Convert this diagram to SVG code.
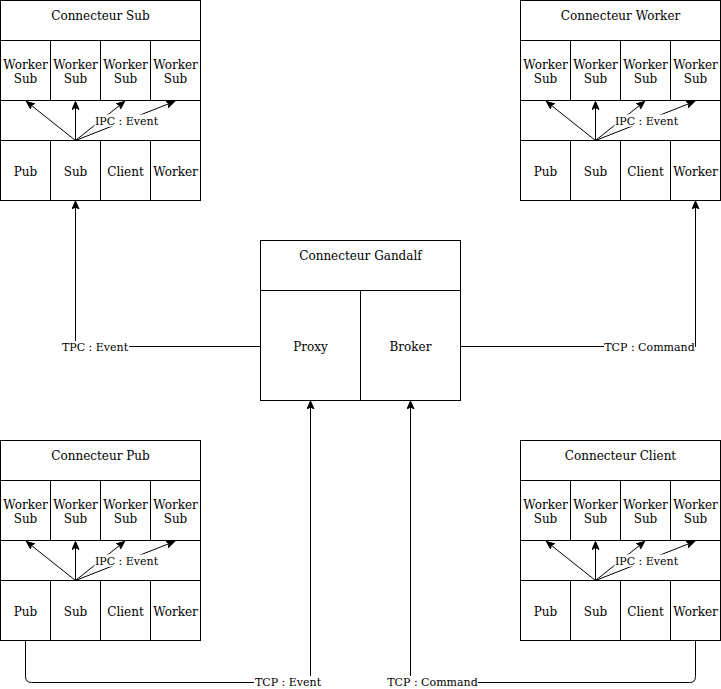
<svg xmlns="http://www.w3.org/2000/svg" width="721" height="689" viewBox="0 0 721 689">
  <style>
    .cell { fill: #ffffff; stroke: #000000; stroke-width: 1; }
    .lbl { font-family: "DejaVu Serif", "Liberation Serif", serif; font-size: 12px; fill: #000000; text-anchor: middle; }
    .elbl { font-family: "DejaVu Serif", "Liberation Serif", serif; font-size: 11px; fill: #000000; text-anchor: middle; }
    .edge { fill: none; stroke: #000000; stroke-width: 1; marker-end: url(#arrow); }
    .bg { fill: #ffffff; stroke: none; }
  </style>
  <defs>
    <marker id="arrow" markerUnits="userSpaceOnUse" markerWidth="10" markerHeight="10" refX="8" refY="3.5" orient="auto">
      <path d="M0,0 L8,3.5 L0,7 L2,3.5 Z" fill="#000000" stroke="#000000" stroke-width="1"/>
    </marker>
  </defs>

  <rect width="721" height="689" fill="#ffffff"/>

  <!-- Connecteur Sub -->
  <g id="connecteur-sub" transform="translate(0.5,0.5)">
    <rect class="cell" x="0" y="0" width="200" height="40"/>
    <text class="lbl" x="100" y="19">Connecteur Sub</text>
    <rect class="cell" x="0" y="40" width="50" height="60"/>
    <rect class="cell" x="50" y="40" width="50" height="60"/>
    <rect class="cell" x="100" y="40" width="50" height="60"/>
    <rect class="cell" x="150" y="40" width="50" height="60"/>
    <text class="lbl" x="25" y="68">Worker</text><text class="lbl" x="25" y="82">Sub</text>
    <text class="lbl" x="75" y="68">Worker</text><text class="lbl" x="75" y="82">Sub</text>
    <text class="lbl" x="125" y="68">Worker</text><text class="lbl" x="125" y="82">Sub</text>
    <text class="lbl" x="175" y="68">Worker</text><text class="lbl" x="175" y="82">Sub</text>
    <rect class="cell" x="0" y="100" width="200" height="40"/>
    <rect class="cell" x="0" y="140" width="50" height="60"/>
    <rect class="cell" x="50" y="140" width="50" height="60"/>
    <rect class="cell" x="100" y="140" width="50" height="60"/>
    <rect class="cell" x="150" y="140" width="50" height="60"/>
    <text class="lbl" x="25" y="175">Pub</text>
    <text class="lbl" x="75" y="175">Sub</text>
    <text class="lbl" x="125" y="175">Client</text>
    <text class="lbl" x="175" y="175">Worker</text>
    <g class="ipc">
      <line class="edge" x1="75" y1="140" x2="26" y2="101"/>
      <line class="edge" x1="75" y1="140" x2="75" y2="101"/>
      <line class="edge" x1="75" y1="140" x2="124" y2="101"/>
      <line class="edge" x1="75" y1="140" x2="174" y2="101"/>
      <rect class="bg" x="94" y="114" width="64" height="12"/>
      <text class="elbl" x="126" y="124">IPC : Event</text>
    </g>
  </g>

  <!-- Connecteur Worker -->
  <g id="connecteur-worker" transform="translate(520.5,0.5)">
    <rect class="cell" x="0" y="0" width="200" height="40"/>
    <text class="lbl" x="100" y="19">Connecteur Worker</text>
    <rect class="cell" x="0" y="40" width="50" height="60"/>
    <rect class="cell" x="50" y="40" width="50" height="60"/>
    <rect class="cell" x="100" y="40" width="50" height="60"/>
    <rect class="cell" x="150" y="40" width="50" height="60"/>
    <text class="lbl" x="25" y="68">Worker</text><text class="lbl" x="25" y="82">Sub</text>
    <text class="lbl" x="75" y="68">Worker</text><text class="lbl" x="75" y="82">Sub</text>
    <text class="lbl" x="125" y="68">Worker</text><text class="lbl" x="125" y="82">Sub</text>
    <text class="lbl" x="175" y="68">Worker</text><text class="lbl" x="175" y="82">Sub</text>
    <rect class="cell" x="0" y="100" width="200" height="40"/>
    <rect class="cell" x="0" y="140" width="50" height="60"/>
    <rect class="cell" x="50" y="140" width="50" height="60"/>
    <rect class="cell" x="100" y="140" width="50" height="60"/>
    <rect class="cell" x="150" y="140" width="50" height="60"/>
    <text class="lbl" x="25" y="175">Pub</text>
    <text class="lbl" x="75" y="175">Sub</text>
    <text class="lbl" x="125" y="175">Client</text>
    <text class="lbl" x="175" y="175">Worker</text>
    <g class="ipc">
      <line class="edge" x1="75" y1="140" x2="26" y2="101"/>
      <line class="edge" x1="75" y1="140" x2="75" y2="101"/>
      <line class="edge" x1="75" y1="140" x2="124" y2="101"/>
      <line class="edge" x1="75" y1="140" x2="174" y2="101"/>
      <rect class="bg" x="94" y="114" width="64" height="12"/>
      <text class="elbl" x="126" y="124">IPC : Event</text>
    </g>
  </g>

  <!-- Connecteur Pub -->
  <g id="connecteur-pub" transform="translate(0.5,440.5)">
    <rect class="cell" x="0" y="0" width="200" height="40"/>
    <text class="lbl" x="100" y="19">Connecteur Pub</text>
    <rect class="cell" x="0" y="40" width="50" height="60"/>
    <rect class="cell" x="50" y="40" width="50" height="60"/>
    <rect class="cell" x="100" y="40" width="50" height="60"/>
    <rect class="cell" x="150" y="40" width="50" height="60"/>
    <text class="lbl" x="25" y="68">Worker</text><text class="lbl" x="25" y="82">Sub</text>
    <text class="lbl" x="75" y="68">Worker</text><text class="lbl" x="75" y="82">Sub</text>
    <text class="lbl" x="125" y="68">Worker</text><text class="lbl" x="125" y="82">Sub</text>
    <text class="lbl" x="175" y="68">Worker</text><text class="lbl" x="175" y="82">Sub</text>
    <rect class="cell" x="0" y="100" width="200" height="40"/>
    <rect class="cell" x="0" y="140" width="50" height="60"/>
    <rect class="cell" x="50" y="140" width="50" height="60"/>
    <rect class="cell" x="100" y="140" width="50" height="60"/>
    <rect class="cell" x="150" y="140" width="50" height="60"/>
    <text class="lbl" x="25" y="175">Pub</text>
    <text class="lbl" x="75" y="175">Sub</text>
    <text class="lbl" x="125" y="175">Client</text>
    <text class="lbl" x="175" y="175">Worker</text>
    <g class="ipc">
      <line class="edge" x1="75" y1="140" x2="26" y2="101"/>
      <line class="edge" x1="75" y1="140" x2="75" y2="101"/>
      <line class="edge" x1="75" y1="140" x2="124" y2="101"/>
      <line class="edge" x1="75" y1="140" x2="174" y2="101"/>
      <rect class="bg" x="94" y="114" width="64" height="12"/>
      <text class="elbl" x="126" y="124">IPC : Event</text>
    </g>
  </g>

  <!-- Connecteur Client -->
  <g id="connecteur-client" transform="translate(520.5,440.5)">
    <rect class="cell" x="0" y="0" width="200" height="40"/>
    <text class="lbl" x="100" y="19">Connecteur Client</text>
    <rect class="cell" x="0" y="40" width="50" height="60"/>
    <rect class="cell" x="50" y="40" width="50" height="60"/>
    <rect class="cell" x="100" y="40" width="50" height="60"/>
    <rect class="cell" x="150" y="40" width="50" height="60"/>
    <text class="lbl" x="25" y="68">Worker</text><text class="lbl" x="25" y="82">Sub</text>
    <text class="lbl" x="75" y="68">Worker</text><text class="lbl" x="75" y="82">Sub</text>
    <text class="lbl" x="125" y="68">Worker</text><text class="lbl" x="125" y="82">Sub</text>
    <text class="lbl" x="175" y="68">Worker</text><text class="lbl" x="175" y="82">Sub</text>
    <rect class="cell" x="0" y="100" width="200" height="40"/>
    <rect class="cell" x="0" y="140" width="50" height="60"/>
    <rect class="cell" x="50" y="140" width="50" height="60"/>
    <rect class="cell" x="100" y="140" width="50" height="60"/>
    <rect class="cell" x="150" y="140" width="50" height="60"/>
    <text class="lbl" x="25" y="175">Pub</text>
    <text class="lbl" x="75" y="175">Sub</text>
    <text class="lbl" x="125" y="175">Client</text>
    <text class="lbl" x="175" y="175">Worker</text>
    <g class="ipc">
      <line class="edge" x1="75" y1="140" x2="26" y2="101"/>
      <line class="edge" x1="75" y1="140" x2="75" y2="101"/>
      <line class="edge" x1="75" y1="140" x2="124" y2="101"/>
      <line class="edge" x1="75" y1="140" x2="174" y2="101"/>
      <rect class="bg" x="94" y="114" width="64" height="12"/>
      <text class="elbl" x="126" y="124">IPC : Event</text>
    </g>
  </g>

  <!-- Connecteur Gandalf -->
  <g id="connecteur-gandalf" transform="translate(260.5,240.5)">
    <rect class="cell" x="0" y="0" width="200" height="50"/>
    <text class="lbl" x="100" y="19">Connecteur Gandalf</text>
    <rect class="cell" x="0" y="50" width="100" height="110"/>
    <rect class="cell" x="100" y="50" width="100" height="110"/>
    <text class="lbl" x="50" y="110">Proxy</text>
    <text class="lbl" x="150" y="110">Broker</text>
  </g>

  <!-- Network links between connectors -->
  <g id="connectors">
    <path class="edge" d="M260.5,346.5 H75.5 V201"/>
    <path class="edge" d="M460.5,346.5 H695.5 V201"/>
    <path class="edge" d="M25.5,640.5 V676.5 Q25.5,682.5 31.5,682.5 H310.5 V401"/>
    <path class="edge" d="M695.5,640.5 V676.5 Q695.5,682.5 689.5,682.5 H410.5 V401"/>
    <rect class="bg" x="61" y="341" width="68" height="12"/>
    <text class="elbl" x="95" y="351">TPC : Event</text>
    <rect class="bg" x="604" y="341" width="91" height="12"/>
    <text class="elbl" x="649.5" y="351">TCP : Command</text>
    <rect class="bg" x="254" y="676" width="68" height="12"/>
    <text class="elbl" x="288" y="686">TCP : Event</text>
    <rect class="bg" x="387" y="676" width="91" height="12"/>
    <text class="elbl" x="432.5" y="686">TCP : Command</text>
  </g>
</svg>
